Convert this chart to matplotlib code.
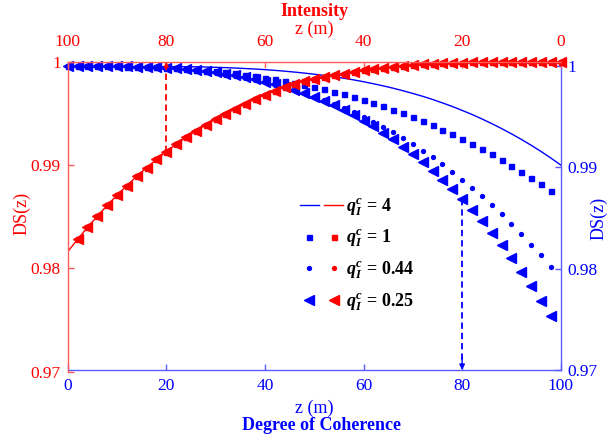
import matplotlib
matplotlib.use("Agg")
import matplotlib.pyplot as plt
from matplotlib.legend_handler import HandlerTuple

plt.rcParams['font.family'] = ['Liberation Serif', 'DejaVu Serif']
plt.rcParams['mathtext.fontset'] = 'custom'
plt.rcParams['mathtext.rm'] = 'Liberation Serif:bold'
plt.rcParams['mathtext.it'] = 'Liberation Serif:italic:bold'
plt.rcParams['mathtext.bf'] = 'Liberation Serif:bold'

# ---- data ----
z = list(range(0, 101, 2))

ds_q4 = [1.0, 1.0, 1.0, 1.0, 1.0, 1.0, 0.99999, 0.99999, 0.99999, 0.99998,
         0.99997, 0.99996, 0.99994, 0.99992, 0.99990, 0.99987, 0.99984, 0.99980, 0.99975, 0.99970,
         0.99964, 0.99957, 0.99949, 0.99940, 0.99930, 0.99919, 0.99907, 0.99894, 0.99879, 0.99863,
         0.99845, 0.99825, 0.99804, 0.99781, 0.99756, 0.99729, 0.99701, 0.99670, 0.99636, 0.99601,
         0.99562, 0.99522, 0.99478, 0.99432, 0.99383, 0.99331, 0.99276, 0.99218, 0.99157, 0.99092,
         0.99023]

ds_q1 = [1.0, 1.0, 1.0, 0.99999, 0.99998, 0.99997, 0.99995, 0.99993, 0.99990, 0.99986,
         0.99982, 0.99977, 0.99970, 0.99963, 0.99955, 0.99947, 0.99937, 0.99926, 0.99913, 0.99900,
         0.99885, 0.99870, 0.99853, 0.99834, 0.99814, 0.99793, 0.99770, 0.99746, 0.99721, 0.99693,
         0.99664, 0.99634, 0.99602, 0.99568, 0.99532, 0.99495, 0.99456, 0.99415, 0.99372, 0.99327,
         0.99280, 0.99232, 0.99181, 0.99128, 0.99074, 0.99017, 0.98958, 0.98897, 0.98833, 0.98768,
         0.98700]

ds_q044 = [1.0, 1.0, 1.0, 0.99999, 0.99998, 0.99997, 0.99994, 0.99991, 0.99988, 0.99983,
           0.99977, 0.99970, 0.99962, 0.99952, 0.99941, 0.99928, 0.99914, 0.99898, 0.99880, 0.99860,
           0.99839, 0.99815, 0.99790, 0.99762, 0.99732, 0.99699, 0.99664, 0.99627, 0.99587, 0.99544,
           0.99499, 0.99450, 0.99400, 0.99345, 0.99289, 0.99228, 0.99165, 0.99098, 0.99028, 0.98955,
           0.98878, 0.98798, 0.98714, 0.98627, 0.98535, 0.98440, 0.98341, 0.98238, 0.98131, 0.98020,
           0.97905]

ds_q025 = [1.0, 1.0, 1.0, 0.99999, 0.99999, 0.99998, 0.99996, 0.99994, 0.99991, 0.99987,
           0.99982, 0.99976, 0.99969, 0.99960, 0.99949, 0.99937, 0.99923, 0.99907, 0.99889, 0.99869,
           0.99846, 0.99821, 0.99794, 0.99763, 0.99730, 0.99693, 0.99654, 0.99611, 0.99564, 0.99514,
           0.99460, 0.99403, 0.99340, 0.99275, 0.99205, 0.99130, 0.99050, 0.98966, 0.98877, 0.98782,
           0.98683, 0.98578, 0.98467, 0.98353, 0.98230, 0.98103, 0.97969, 0.97829, 0.97682, 0.97530,
           0.97370]

# intensity DS(z) vs z (top axis, reversed)
ds_int = [1.0, 1.0, 1.0, 1.0, 1.0, 0.99999, 0.99998, 0.99997, 0.99996, 0.99994,
          0.99992, 0.99988, 0.99985, 0.99980, 0.99974, 0.99967, 0.99960, 0.99950, 0.99940, 0.99928,
          0.99915, 0.99899, 0.99882, 0.99867, 0.99852, 0.99835, 0.99812, 0.99785, 0.99755, 0.99720,
          0.99680, 0.99638, 0.99592, 0.99543, 0.99495, 0.99443, 0.99388, 0.99329, 0.99266, 0.99200,
          0.99129, 0.99054, 0.98974, 0.98890, 0.98801, 0.98707, 0.98608, 0.98504, 0.98395, 0.98280,
          0.98160]

labels = [r'$q_I^c$ = 4', r'$q_I^c$ = 1', r'$q_I^c$ = 0.44', r'$q_I^c$ = 0.25']
x_ticks = [0, 20, 40, 60, 80, 100]
y_ticks = [0.97, 0.98, 0.99, 1.0]
y_ticklabels = ['0.97', '0.98', '0.99', '1']
mark_z = 80   # z of the dashed guide lines

RED = '#ff0000'
BLUE = '#0000ff'
RED_SP = '#ff5a5a'
BLUE_SP = '#5a5aff'
FS = 12.5

W, H = 613, 440
fig = plt.figure(figsize=(W / 100, H / 100), dpi=100)

def fx(px):
    return px / W

def fy(py):
    return (H - py) / H

# blue (coherence) axes: bottom & right
ax_b = fig.add_axes([fx(67.7), fy(370), fx(560.7) - fx(67.7), fy(66) - fy(370)])
# red (intensity) axes: top & left
ax_r = fig.add_axes([fx(67.7), fy(371.5), fx(560.7) - fx(67.7), fy(61.7) - fy(371.5)])
ax_r.patch.set_visible(False)

# --- blue axes styling
ax_b.set_xlim(0, 100)
ax_b.set_ylim(0.97, 1.0)
for s in ['top', 'left']:
    ax_b.spines[s].set_visible(False)
for s in ['bottom', 'right']:
    ax_b.spines[s].set_color(BLUE_SP)
    ax_b.spines[s].set_linewidth(1.0)
ax_b.yaxis.tick_right()
ax_b.set_xticks(x_ticks)
ax_b.set_xticklabels([str(v) for v in x_ticks])
ax_b.set_yticks(y_ticks)
ax_b.set_yticklabels(y_ticklabels)
ax_b.tick_params(axis='both', direction='in', length=4, width=1.0, color=BLUE_SP,
                 labelcolor=BLUE, labelsize=FS)
ax_b.tick_params(axis='x', pad=6)
ax_b.tick_params(axis='y', pad=5)

# --- red axes styling
ax_r.set_xlim(100, 0)
ax_r.set_ylim(0.97, 1.0)
for s in ['bottom', 'right']:
    ax_r.spines[s].set_visible(False)
for s in ['top', 'left']:
    ax_r.spines[s].set_color(RED_SP)
    ax_r.spines[s].set_linewidth(1.0)
ax_r.xaxis.tick_top()
ax_r.yaxis.tick_left()
ax_r.set_xticks(x_ticks)
ax_r.set_xticklabels([str(v) for v in x_ticks])
ax_r.set_yticks(y_ticks)
ax_r.set_yticklabels(y_ticklabels)
ax_r.tick_params(axis='both', direction='in', length=4, width=1.0, color=RED_SP,
                 labelcolor=RED, labelsize=FS)
ax_r.tick_params(axis='x', pad=8.5)
ax_r.tick_params(axis='y', pad=5)

# --- blue curves
mk = slice(0, -1)
lb4, = ax_b.plot(z, ds_q4, color=BLUE, lw=1.0)
lb1, = ax_b.plot(z, ds_q1, ls='none', marker='s', ms=3.6, color=BLUE, markevery=mk, clip_on=False)
lb044, = ax_b.plot(z, ds_q044, ls='none', marker='o', ms=2.8, color=BLUE, markevery=mk, clip_on=False)
lb025, = ax_b.plot(z, ds_q025, ls='none', marker='<', ms=6.5, color=BLUE, markevery=mk, clip_on=False)

i80 = z.index(mark_z)
ax_b.plot([mark_z, mark_z], [ds_q025[i80], 0.9703], ls='--', color=BLUE, lw=1.3, dashes=(3.5, 2.2))
ax_b.annotate('', xy=(mark_z, 0.97), xytext=(mark_z, 0.9712),
              arrowprops=dict(arrowstyle='-|>', color=BLUE, lw=1.0, mutation_scale=8,
                              shrinkA=0, shrinkB=0))

# --- red curves
lr1, = ax_r.plot(z, ds_int, ls='none', marker='s', ms=3.6, color=RED, markevery=mk, clip_on=False)
lr044, = ax_r.plot(z, ds_int, ls='none', marker='o', ms=2.8, color=RED, markevery=mk, clip_on=False)
lr025, = ax_r.plot(z, ds_int, ls='none', marker='<', ms=6.5, color=RED, markevery=mk, clip_on=False)
lr4, = ax_r.plot(z, ds_int, color=RED, lw=1.0)

ax_r.plot([mark_z, mark_z], [ds_int[i80], 0.9997], ls='--', color=RED, lw=1.3, dashes=(3.5, 2.2))
ax_r.annotate('', xy=(mark_z, 1.0), xytext=(mark_z, 0.9992),
              arrowprops=dict(arrowstyle='-|>', color=RED, lw=1.0, mutation_scale=7,
                              shrinkA=0, shrinkB=0))

# --- legend
handles = [(lb4, lr4), (lb1, lr1), (lb044, lr044), (lb025, lr025)]
leg = ax_r.legend(handles, labels, handler_map={tuple: HandlerTuple(ndivide=None, pad=0.3)},
                  loc='upper left', bbox_to_anchor=(fx(300), fy(196)),
                  bbox_transform=fig.transFigure, frameon=False,
                  prop={'family': 'Liberation Serif', 'weight': 'bold', 'size': 13},
                  handlelength=2.4, handletextpad=0.15, labelspacing=0.56,
                  borderpad=0, borderaxespad=0)

# --- axis titles
fig.text(fx(314), fy(12), 'Intensity', color=RED, fontsize=13, fontweight='bold',
         ha='center', va='center')
fig.text(fx(314), fy(29), 'z (m)', color=RED, fontsize=13, ha='center', va='center')
fig.text(fx(314), fy(408), 'z (m)', color=BLUE, fontsize=13, ha='center', va='center')
fig.text(fx(322), fy(425), 'Degree of Coherence', color=BLUE, fontsize=13,
         fontweight='bold', ha='center', va='center')
fig.text(fx(22), fy(213), 'DS(z)', color=RED, fontsize=13, rotation=90,
         ha='center', va='center')
fig.text(fx(599), fy(218), 'DS(z)', color=BLUE, fontsize=13, rotation=90,
         ha='center', va='center')

fig.savefig('out.png', dpi=100)
